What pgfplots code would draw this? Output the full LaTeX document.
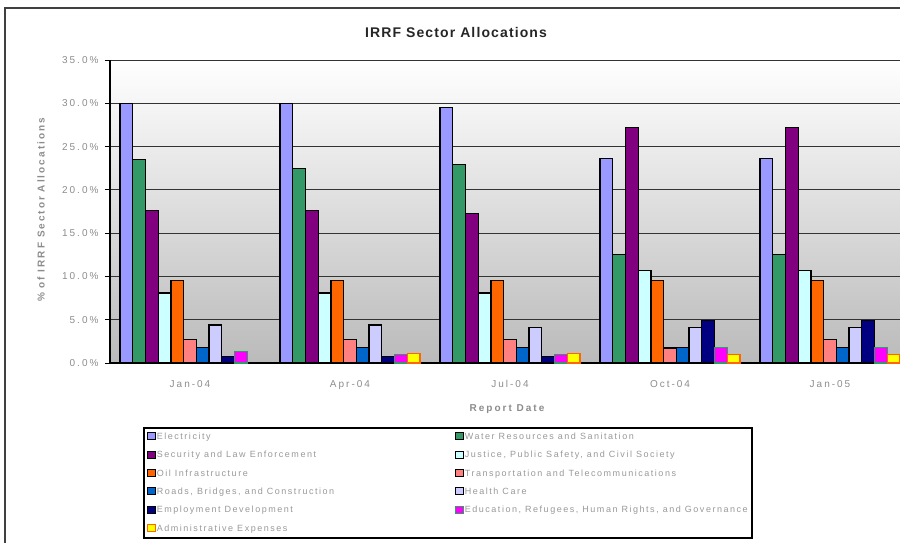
\documentclass[border=0pt]{standalone}
\usepackage{pgfplots}
\pgfplotsset{compat=1.18}
\usepackage{fontspec}
\setmainfont{Liberation Sans}[LetterSpace=20]
\newfontfamily\titlefont{Liberation Sans}[LetterSpace=8]
\newfontfamily\legfont{Liberation Sans}[LetterSpace=17]
\definecolor{cElec}{HTML}{9999FF}
\definecolor{cWater}{HTML}{339966}
\definecolor{cSec}{HTML}{800080}
\definecolor{cJus}{HTML}{CCFFFF}
\definecolor{cOil}{HTML}{FF6600}
\definecolor{cTra}{HTML}{FF8080}
\definecolor{cRoad}{HTML}{0066CC}
\definecolor{cHea}{HTML}{CCCCFF}
\definecolor{cEmp}{HTML}{000080}
\definecolor{cEdu}{HTML}{FF00FF}
\definecolor{cAdm}{HTML}{FFFF00}
\definecolor{txtgray}{HTML}{8C8C8C}
\begin{document}
\begin{tikzpicture}[x=1pt,y=1pt]
\useasboundingbox (0,0) rectangle (900,542);
\draw[black!75, line width=1.5pt] (5,-2) -- (5,534) -- (905,534);
\node[font=\fontsize{14}{16}\selectfont\bfseries\titlefont, text=black!85] at (456,510) {IRRF Sector Allocations};
\node[rotate=90, font=\fontsize{10}{12}\selectfont\bfseries, text=txtgray] at (41,332) {\% of IRRF Sector Allocations};
\node[font=\fontsize{10}{12}\selectfont\bfseries, text=txtgray] at (507,133) {Report Date};
\begin{axis}[
  at={(110pt,179pt)}, anchor=south west,
  scale only axis, width=790pt, height=303pt,
  xmin=-0.5, xmax=4.4375, ymin=0, ymax=35,
  ybar=0pt, bar width=0.0795,
  axis x line*=bottom, axis y line*=left,
  axis line style={black, line width=1.3pt, -},
  axis background/.style={top color=white, bottom color=black!27},
  ymajorgrids, major grid style={black!80, line width=1pt},
  ytick={0,5,...,35},
  yticklabel={\pgfmathprintnumber[fixed,fixed zerofill,precision=1]{\tick}\%},
  /pgf/number format/assume math mode=true,
  xtick={0,1,2,3,4},
  xticklabels={Jan-04,Apr-04,Jul-04,Oct-04,Jan-05},
  x tick style={draw=none},
  extra x ticks={0.5,1.5,2.5,3.5},
  extra x tick labels={},
  extra x tick style={grid=none, tick style={draw=black, line width=1pt}, major tick length=5pt, tick align=outside},
  y tick style={black, line width=1pt}, major tick length=5pt, tick align=outside,
  tick label style={font=\fontsize{10}{12}\selectfont, text=txtgray},
  xticklabel style={yshift=-9pt},
  yticklabel style={xshift=-3pt},
  legend columns=2,
  legend cell align=left,
  legend style={at={(0.0418,-0.2112)}, anchor=north west,
    draw=black, line width=1.6pt,
    font=\fontsize{9}{10}\selectfont\legfont, text=black!40,
    inner xsep=3pt, inner ysep=3.5pt,
    row sep=7.4pt,
    nodes={inner sep=1pt, text height=7pt, text depth=2pt}},
  legend image code/.code={\draw[#1, line width=1pt] (0pt,-3pt) rectangle (8pt,4pt);},
  every axis plot/.append style={draw=black, line width=1.3pt},
]
\addplot[fill=cElec] coordinates {(0,30.0)(1,30.0)(2,29.5)(3,23.6)(4,23.6)};
\addlegendentry{\makebox[297pt][l]{Electricity}}
\addplot[fill=cWater] coordinates {(0,23.5)(1,22.5)(2,22.9)(3,12.5)(4,12.5)};
\addlegendentry{Water Resources and Sanitation}
\addplot[fill=cSec] coordinates {(0,17.6)(1,17.6)(2,17.3)(3,27.2)(4,27.2)};
\addlegendentry{\makebox[297pt][l]{Security and Law Enforcement}}
\addplot[fill=cJus] coordinates {(0,8.1)(1,8.1)(2,8.1)(3,10.7)(4,10.7)};
\addlegendentry{Justice, Public Safety, and Civil Society}
\addplot[fill=cOil] coordinates {(0,9.5)(1,9.5)(2,9.5)(3,9.5)(4,9.5)};
\addlegendentry{\makebox[297pt][l]{Oil Infrastructure}}
\addplot[fill=cTra] coordinates {(0,2.7)(1,2.7)(2,2.7)(3,1.75)(4,2.7)};
\addlegendentry{Transportation and Telecommunications}
\addplot[fill=cRoad] coordinates {(0,1.8)(1,1.8)(2,1.8)(3,1.8)(4,1.8)};
\addlegendentry{\makebox[297pt][l]{Roads, Bridges, and Construction}}
\addplot[fill=cHea] coordinates {(0,4.4)(1,4.4)(2,4.1)(3,4.1)(4,4.1)};
\addlegendentry{Health Care}
\addplot[fill=cEmp] coordinates {(0,0.75)(1,0.75)(2,0.75)(3,4.9)(4,4.9)};
\addlegendentry{\makebox[297pt][l]{Employment Development}}
\addplot[fill=cEdu, draw=cWater] coordinates {(0,1.3)(1,1.0)(2,1.0)(3,1.8)(4,1.8)};
\addlegendentry{Education, Refugees, Human Rights, and Governance}
\addplot[fill=cAdm, draw=cOil] coordinates {(1,1.1)(2,1.1)(3,1.0)(4,1.0)};
\addlegendentry{\makebox[297pt][l]{Administrative Expenses}}
\end{axis}
\end{tikzpicture}
\end{document}
